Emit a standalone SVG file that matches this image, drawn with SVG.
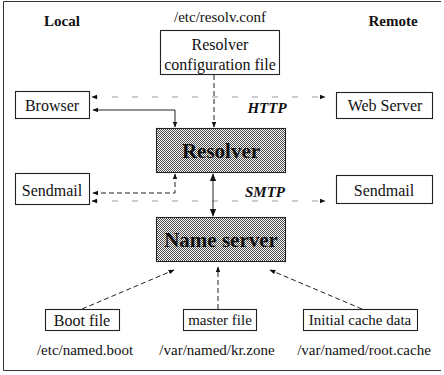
<svg xmlns="http://www.w3.org/2000/svg" width="444" height="375" viewBox="0 0 444 375">
<defs>
<pattern id="stip" width="2" height="2" patternUnits="userSpaceOnUse">
<rect width="2" height="2" fill="#ffffff"/>
<rect x="0" y="0" width="1" height="1" fill="#4a4a4a"/>
<rect x="1" y="1" width="1" height="1" fill="#4a4a4a"/>
</pattern>
<marker id="ah" viewBox="0 0 10 10" refX="9" refY="5" markerWidth="6" markerHeight="6" orient="auto-start-reverse" markerUnits="userSpaceOnUse">
<path d="M0,1 L10,5 L0,9 Z" fill="#111"/>
</marker>
<marker id="ahb" viewBox="0 0 10 10" refX="9" refY="5" markerWidth="8" markerHeight="8" orient="auto-start-reverse" markerUnits="userSpaceOnUse">
<path d="M0,1 L10,5 L0,9 Z" fill="#111"/>
</marker>
</defs>
<style>
.t{font-family:'Liberation Serif',Tinos,'Times New Roman',Times,'DejaVu Serif',serif;font-size:16px;fill:#111;text-anchor:middle;dominant-baseline:central}
.p{font-size:15px}
.h{font-weight:bold;font-size:15px}
.big{font-weight:bold;font-size:21px}
.it{font-style:italic;font-weight:bold;font-size:15px}
.box{fill:#fff;stroke:#222;stroke-width:1.1}
.sbox{fill:url(#stip);stroke:#222;stroke-width:1.1}
.c{fill:none;stroke:#222;stroke-width:1}
.d{stroke-dasharray:5 3}
.f{stroke:#999;stroke-dasharray:6 14}
.frame{fill:none;stroke:#333;stroke-width:1}
</style>
<path class="frame" d="M441,1.5 H3.5 V370.5 H441"/>
<text class="t h" x="62" y="21">Local</text>
<text class="t p" x="220" y="17">/etc/resolv.conf</text>
<text class="t h" x="393" y="21">Remote</text>
<text class="t it" x="267" y="108">HTTP</text>
<text class="t it" x="265" y="192">SMTP</text>
<text class="t p" x="85" y="350">/etc/named.boot</text>
<text class="t p" x="217" y="350">/var/named/kr.zone</text>
<text class="t p" x="364" y="350">/var/named/root.cache</text>
<g id="connectors">
<line class="c f" x1="92" y1="97" x2="325" y2="97" marker-start="url(#ah)" marker-end="url(#ah)"/>
<polyline class="c" points="93,110 175,110 175,127" marker-start="url(#ah)" marker-end="url(#ah)"/>
<line class="c d" x1="214" y1="75" x2="214" y2="127" marker-end="url(#ah)"/>
<polyline class="c d" points="175,174 175,193 93,193" marker-start="url(#ah)" marker-end="url(#ah)"/>
<line class="c f" x1="92" y1="201" x2="325" y2="201" marker-start="url(#ah)" marker-end="url(#ah)"/>
<line class="c" x1="213" y1="174" x2="213" y2="216" stroke-width="1.5" marker-start="url(#ahb)" marker-end="url(#ahb)"/>
<line class="c d" x1="82" y1="309" x2="174" y2="270" marker-end="url(#ah)"/>
<line class="c d" x1="218" y1="309" x2="218" y2="267" marker-end="url(#ah)"/>
<line class="c d" x1="362" y1="309" x2="270" y2="270" marker-end="url(#ah)"/>
</g>
<g id="config">
<rect class="box" x="160.5" y="30.5" width="119" height="44"/>
<text class="t" x="220" y="44">Resolver</text>
<text class="t" x="220" y="64">configuration file</text>
</g>
<g id="browser">
<rect class="box" x="15.5" y="91.5" width="74" height="27"/>
<text class="t" x="52" y="105">Browser</text>
</g>
<g id="webserver">
<rect class="box" x="336.5" y="92.5" width="96" height="26"/>
<text class="t" x="385" y="105">Web Server</text>
</g>
<g id="resolver">
<rect class="sbox" x="156.5" y="128.5" width="129" height="44"/>
<text class="t big" x="221" y="151">Resolver</text>
</g>
<g id="sendmail-local">
<rect class="box" x="15.5" y="173.5" width="74" height="31"/>
<text class="t" x="52" y="190">Sendmail</text>
</g>
<g id="sendmail-remote">
<rect class="box" x="336.5" y="175.5" width="96" height="28"/>
<text class="t" x="384" y="190">Sendmail</text>
</g>
<g id="nameserver">
<rect class="sbox" x="156.5" y="217.5" width="129" height="44"/>
<text class="t big" x="221" y="240">Name server</text>
</g>
<g id="bootfile">
<rect class="box" x="45.5" y="309.5" width="74" height="21"/>
<text class="t" x="82" y="320">Boot file</text>
</g>
<g id="masterfile">
<rect class="box" x="183.5" y="309.5" width="73" height="21"/>
<text class="t p" x="220" y="320">master file</text>
</g>
<g id="cachedata">
<rect class="box" x="303.5" y="309.5" width="114" height="21"/>
<text class="t p" x="360" y="320">Initial cache data</text>
</g>
</svg>
